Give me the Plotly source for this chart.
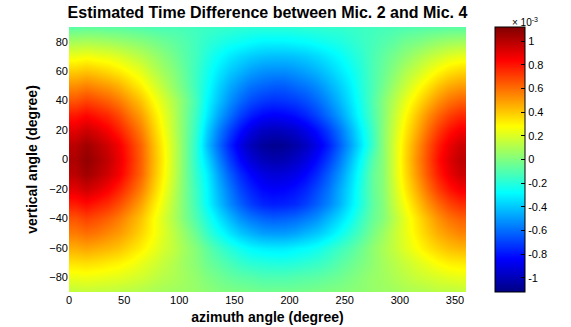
import plotly.graph_objects as go

# azimuth cell centres (degree) and elevation rows (degree, ascending)
azimuth = [5, 15, 25, 35, 45, 55, 65, 75, 85, 95, 105, 115, 125, 135, 145, 155, 165, 175,
           185, 195, 205, 215, 225, 235, 245, 255, 265, 275, 285, 295, 305, 315, 325, 335, 345, 355]
elevation = [-90, -80, -70, -60, -50, -40, -30, -20, -10, 0, 10, 20, 30, 40, 50, 60, 70, 80, 90]

# estimated time difference (x 1e-3), one list per elevation row
el_p90 = [-0.08, -0.07, -0.07, -0.08, -0.08, -0.09, -0.10, -0.11, -0.12, -0.12, -0.13, -0.14, -0.15, -0.16, -0.17, -0.18, -0.19, -0.19, -0.19, -0.19, -0.19, -0.18, -0.18, -0.17, -0.17, -0.16, -0.15, -0.14, -0.13, -0.12, -0.11, -0.10, -0.09, -0.09, -0.08, -0.08]
el_p80 = [0.09, 0.10, 0.09, 0.08, 0.06, 0.04, 0.02, -0.01, -0.04, -0.07, -0.10, -0.14, -0.18, -0.21, -0.24, -0.26, -0.28, -0.30, -0.30, -0.30, -0.29, -0.28, -0.26, -0.24, -0.22, -0.19, -0.16, -0.13, -0.10, -0.07, -0.03, -0.01, 0.02, 0.05, 0.07, 0.08]
el_p70 = [0.24, 0.26, 0.24, 0.23, 0.20, 0.16, 0.12, 0.07, 0.02, -0.03, -0.09, -0.14, -0.21, -0.27, -0.32, -0.36, -0.39, -0.41, -0.42, -0.42, -0.41, -0.39, -0.36, -0.32, -0.28, -0.23, -0.18, -0.12, -0.07, -0.02, 0.03, 0.08, 0.13, 0.17, 0.21, 0.23]
el_p60 = [0.39, 0.41, 0.39, 0.36, 0.32, 0.27, 0.22, 0.14, 0.07, 0.01, -0.07, -0.15, -0.24, -0.32, -0.39, -0.44, -0.49, -0.52, -0.53, -0.53, -0.51, -0.48, -0.44, -0.39, -0.33, -0.27, -0.20, -0.12, -0.05, 0.02, 0.10, 0.16, 0.23, 0.29, 0.34, 0.37]
el_p50 = [0.53, 0.56, 0.53, 0.50, 0.45, 0.38, 0.31, 0.22, 0.13, 0.04, -0.05, -0.15, -0.26, -0.37, -0.46, -0.53, -0.59, -0.62, -0.64, -0.64, -0.61, -0.58, -0.53, -0.46, -0.39, -0.31, -0.21, -0.12, -0.03, 0.07, 0.16, 0.25, 0.33, 0.41, 0.47, 0.50]
el_p40 = [0.66, 0.70, 0.67, 0.63, 0.57, 0.49, 0.41, 0.30, 0.20, 0.10, -0.01, -0.13, -0.29, -0.41, -0.52, -0.61, -0.68, -0.72, -0.74, -0.73, -0.71, -0.67, -0.61, -0.53, -0.44, -0.34, -0.23, -0.11, 0.01, 0.12, 0.23, 0.33, 0.43, 0.52, 0.59, 0.63]
el_p30 = [0.79, 0.83, 0.79, 0.75, 0.68, 0.58, 0.49, 0.36, 0.24, 0.12, -0.02, -0.15, -0.32, -0.47, -0.59, -0.70, -0.78, -0.83, -0.85, -0.84, -0.81, -0.76, -0.69, -0.60, -0.50, -0.38, -0.25, -0.12, 0.01, 0.15, 0.28, 0.40, 0.52, 0.62, 0.70, 0.75]
el_p20 = [0.90, 0.95, 0.91, 0.85, 0.77, 0.67, 0.56, 0.41, 0.27, 0.13, -0.02, -0.17, -0.38, -0.55, -0.69, -0.81, -0.91, -0.97, -0.99, -0.98, -0.95, -0.89, -0.81, -0.71, -0.59, -0.45, -0.30, -0.15, 0.02, 0.17, 0.32, 0.45, 0.59, 0.71, 0.80, 0.86]
el_p10 = [0.99, 1.05, 1.00, 0.94, 0.86, 0.74, 0.62, 0.45, 0.30, 0.15, -0.02, -0.19, -0.42, -0.60, -0.76, -0.90, -1.00, -1.06, -1.09, -1.08, -1.04, -0.98, -0.89, -0.78, -0.64, -0.49, -0.33, -0.16, 0.02, 0.19, 0.35, 0.50, 0.65, 0.78, 0.88, 0.95]
el_0 = [1.02, 1.08, 1.03, 0.97, 0.88, 0.76, 0.63, 0.46, 0.31, 0.15, -0.02, -0.19, -0.36, -0.54, -0.70, -0.83, -0.93, -0.99, -1.02, -1.01, -0.97, -0.91, -0.82, -0.71, -0.58, -0.43, -0.27, -0.10, 0.02, 0.19, 0.36, 0.52, 0.67, 0.81, 0.91, 0.98]
el_m10 = [0.99, 1.05, 1.00, 0.94, 0.86, 0.74, 0.62, 0.45, 0.30, 0.15, -0.02, -0.17, -0.31, -0.48, -0.63, -0.75, -0.84, -0.90, -0.93, -0.92, -0.89, -0.83, -0.75, -0.64, -0.52, -0.38, -0.23, -0.07, 0.02, 0.19, 0.35, 0.50, 0.65, 0.78, 0.88, 0.95]
el_m20 = [0.90, 0.95, 0.91, 0.85, 0.77, 0.67, 0.56, 0.41, 0.27, 0.13, -0.02, -0.15, -0.29, -0.44, -0.57, -0.69, -0.77, -0.83, -0.85, -0.84, -0.81, -0.76, -0.68, -0.59, -0.47, -0.35, -0.21, -0.07, 0.02, 0.17, 0.32, 0.45, 0.59, 0.71, 0.80, 0.86]
el_m30 = [0.78, 0.82, 0.78, 0.74, 0.67, 0.58, 0.48, 0.35, 0.23, 0.11, -0.02, -0.14, -0.28, -0.41, -0.53, -0.63, -0.71, -0.76, -0.78, -0.77, -0.75, -0.70, -0.63, -0.55, -0.45, -0.33, -0.21, -0.08, 0.01, 0.15, 0.27, 0.39, 0.51, 0.61, 0.69, 0.74]
el_m40 = [0.66, 0.70, 0.67, 0.63, 0.57, 0.49, 0.41, 0.30, 0.20, 0.10, -0.01, -0.11, -0.22, -0.33, -0.43, -0.52, -0.58, -0.62, -0.64, -0.63, -0.61, -0.57, -0.52, -0.44, -0.36, -0.27, -0.16, -0.06, 0.01, 0.12, 0.23, 0.33, 0.43, 0.52, 0.59, 0.63]
el_m50 = [0.57, 0.60, 0.58, 0.54, 0.50, 0.44, 0.37, 0.29, 0.21, 0.13, 0.04, -0.05, -0.16, -0.25, -0.33, -0.40, -0.45, -0.49, -0.50, -0.50, -0.48, -0.44, -0.40, -0.34, -0.27, -0.19, -0.11, -0.02, 0.06, 0.15, 0.23, 0.31, 0.39, 0.46, 0.51, 0.55]
el_m60 = [0.46, 0.48, 0.46, 0.44, 0.41, 0.36, 0.31, 0.25, 0.19, 0.14, 0.07, 0.01, -0.07, -0.14, -0.20, -0.25, -0.29, -0.31, -0.32, -0.32, -0.30, -0.28, -0.25, -0.20, -0.15, -0.10, -0.04, 0.03, 0.09, 0.15, 0.21, 0.27, 0.33, 0.38, 0.42, 0.44]
el_m70 = [0.34, 0.35, 0.34, 0.32, 0.30, 0.27, 0.23, 0.19, 0.15, 0.11, 0.06, 0.02, -0.04, -0.08, -0.12, -0.16, -0.19, -0.20, -0.21, -0.21, -0.20, -0.18, -0.16, -0.13, -0.09, -0.05, -0.01, 0.03, 0.08, 0.12, 0.16, 0.20, 0.24, 0.28, 0.31, 0.32]
el_m80 = [0.24, 0.25, 0.24, 0.23, 0.22, 0.20, 0.18, 0.15, 0.12, 0.10, 0.07, 0.04, 0.00, -0.03, -0.06, -0.08, -0.09, -0.11, -0.11, -0.11, -0.10, -0.09, -0.08, -0.06, -0.04, -0.01, 0.02, 0.05, 0.07, 0.10, 0.13, 0.16, 0.18, 0.20, 0.22, 0.23]
el_m90 = [0.14, 0.15, 0.14, 0.14, 0.13, 0.12, 0.11, 0.09, 0.08, 0.07, 0.06, 0.05, 0.03, 0.01, 0.00, -0.01, -0.02, -0.03, -0.03, -0.03, -0.03, -0.02, -0.01, 0.00, 0.01, 0.02, 0.03, 0.05, 0.06, 0.07, 0.09, 0.10, 0.11, 0.13, 0.13, 0.14]

rows = [el_m90, el_m80, el_m70, el_m60, el_m50, el_m40, el_m30, el_m20, el_m10, el_0,
        el_p10, el_p20, el_p30, el_p40, el_p50, el_p60, el_p70, el_p80, el_p90]

x_ticks = [0, 50, 100, 150, 200, 250, 300, 350]
y_ticks = [-80, -60, -40, -20, 0, 20, 40, 60, 80]
cb_ticks = [-1, -0.8, -0.6, -0.4, -0.2, 0, 0.2, 0.4, 0.6, 0.8, 1]
cb_text = ["-1", "-0.8", "-0.6", "-0.4", "-0.2", "0", "0.2", "0.4", "0.6", "0.8", "1"]

jet = [[0.0, "rgb(0,0,131)"], [0.125, "rgb(0,0,255)"], [0.375, "rgb(0,255,255)"],
       [0.625, "rgb(255,255,0)"], [0.875, "rgb(255,0,0)"], [1.0, "rgb(128,0,0)"]]

FONT = "Liberation Sans, Arial, sans-serif"

fig = go.Figure(go.Heatmap(
    x=azimuth, y=elevation, z=rows,
    colorscale=jet, zmin=-1.12, zmax=1.12, zsmooth="best",
    colorbar=dict(
        x=1.073, xanchor="left", y=0.5, yanchor="middle",
        len=1.0, lenmode="fraction", thickness=30, thicknessmode="pixels",
        outlinecolor="black", outlinewidth=1,
        tickvals=cb_ticks, ticktext=cb_text, ticks="inside", ticklen=4,
        tickcolor="black", tickfont=dict(family=FONT, size=11, color="black"),
        xpad=0, ypad=0,
    ),
))

fig.update_layout(
    width=571, height=327,
    margin=dict(l=69, r=105, t=27, b=35, autoexpand=False),
    paper_bgcolor="white", plot_bgcolor="white",
    title=dict(text="<b>Estimated Time Difference between Mic. 2 and Mic. 4</b>",
               x=0.5, xref="paper", xanchor="center", y=0.962, yref="container",
               yanchor="middle", font=dict(family=FONT, size=16, color="black")),
    xaxis=dict(range=[0, 360], tickvals=x_ticks, ticks="", showgrid=False, zeroline=False,
               automargin=False,
               tickfont=dict(family=FONT, size=11, color="black"),
               title=dict(text="<b>azimuth angle (degree)</b>", standoff=7,
                          font=dict(family=FONT, size=14, color="black"))),
    yaxis=dict(range=[-90, 90], tickvals=y_ticks, ticks="", showgrid=False, zeroline=False,
               automargin=False,
               tickfont=dict(family=FONT, size=11, color="black"),
               title=dict(text="<b>vertical angle (degree)</b>", standoff=8,
                          font=dict(family=FONT, size=14, color="black"))),
    annotations=[dict(text="× 10<sup>-3</sup>", x=(540 - 69) / 397, y=1 + (27 - 14) / 265,
                      xref="paper", yref="paper", showarrow=False,
                      font=dict(family=FONT, size=10, color="black"))],
)

fig.write_html("out.html", config={"displayModeBar": False},
               post_script="document.body.style.margin='0px';")
